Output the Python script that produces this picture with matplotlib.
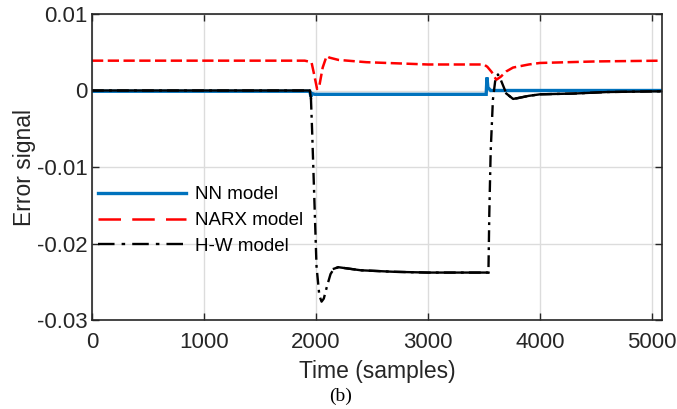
import numpy as np
import matplotlib
matplotlib.use("Agg")
import matplotlib.pyplot as plt
from matplotlib.lines import Line2D

# Error signals of the three identified models (sample index, error value)
nn_t = [0, 1945, 1955, 1965, 1990, 2100, 3520, 3527, 3535, 3560, 3580, 5090]
nn_v = [-0.0001, -0.0001, -0.0008, -0.0004, -0.0005, -0.0005, -0.0005,
        0.0017, 0.0004, 0.0000, 0.0000, 0.0000]

narx_t = [0, 1900, 1960, 1985, 2010, 2030, 2060, 2095, 2120, 2200, 2450, 3000,
          3500, 3530, 3570, 3610, 3650, 3700, 3760, 3900, 4000, 4500, 5090]
narx_v = [0.0039, 0.0039, 0.0037, 0.0020, 0.0002, 0.0006, 0.0030, 0.0045,
          0.0043, 0.0040, 0.0037, 0.0034, 0.0034, 0.0031, 0.0024, 0.0014,
          0.0018, 0.0025, 0.0030, 0.0034, 0.0036, 0.0038, 0.0039]

hw_t = [0, 1945, 1955, 1965, 1985, 2005, 2030, 2050, 2070, 2100, 2130, 2160,
        2200, 2400, 2700, 3000, 3300, 3540, 3548, 3560, 3580, 3600, 3625,
        3650, 3700, 3760, 3800, 3900, 4000, 4300, 4600, 5090]
hw_v = [0.0000, 0.0000, -0.0010, -0.0050, -0.0140, -0.0230, -0.0268, -0.0276,
        -0.0272, -0.0255, -0.0240, -0.0233, -0.0231, -0.0235, -0.0237, -0.0238,
        -0.0238, -0.0238, -0.0160, -0.0080, -0.0012, 0.0012, 0.0021, 0.0014,
        -0.0004, -0.0011, -0.0010, -0.0007, -0.0005, -0.0004, -0.0002, -0.0001]

series_labels = ["NN model", "NARX model", "H-W model"]
x_ticks = [0, 1000, 2000, 3000, 4000, 5000]
x_tick_labels = ["0", "1000", "2000", "3000", "4000", "5000"]
y_ticks = [0.01, 0.0, -0.01, -0.02, -0.03]
y_tick_labels = ["0.01", "0", "-0.01", "-0.02", "-0.03"]

plt.rcParams["font.family"] = ["Liberation Sans", "DejaVu Sans"]
plt.rcParams["axes.unicode_minus"] = False

fig = plt.figure(figsize=(6.77, 4.09), dpi=100)
ax = fig.add_axes([92 / 677, 1 - 320 / 409, 570 / 677, 306 / 409])

blue = "#0072BD"
red = "#FF0000"
ink = "#262626"

ax.plot(nn_t, nn_v, color=blue, lw=2.4, solid_joinstyle="miter")
ax.plot(narx_t, narx_v, color=red, lw=1.8, dashes=(4.5, 1.8))
ax.plot(hw_t, hw_v, color="black", lw=1.7, dashes=(5, 2.2, 1.2, 2.2))

# the slowly varying stretches of the H-W error render as a continuous trace
hw_t_arr = np.asarray(hw_t)
hw_v_arr = np.asarray(hw_v)
for lo, hi in [(0, 1955), (2160, 3540), (3700, 5090)]:
    m = (hw_t_arr >= lo) & (hw_t_arr <= hi)
    ax.plot(hw_t_arr[m], hw_v_arr[m], color="black", lw=1.7)

ax.set_xlim(0, 5090)
ax.set_ylim(-0.03, 0.01)
ax.set_xticks(x_ticks, x_tick_labels)
ax.set_yticks(y_ticks, y_tick_labels)
ax.grid(True, color="#dcdcdc", lw=1.0)
ax.set_axisbelow(True)

for s in ax.spines.values():
    s.set_color(ink)
    s.set_linewidth(1.2)
ax.tick_params(axis="both", direction="in", length=5, width=1.0,
               color=ink, labelsize=16, labelcolor=ink,
               top=True, right=True)
ax.tick_params(axis="x", pad=9)
ax.tick_params(axis="y", pad=3)

ax.set_xlabel("Time (samples)", fontsize=16.5, color=ink, labelpad=4.5)
ax.set_ylabel("Error signal", fontsize=16.5, color=ink, labelpad=1)

handles = [
    Line2D([], [], color=blue, lw=2.4),
    Line2D([], [], color=red, lw=1.8, dashes=(9, 4.5)),
    Line2D([], [], color="black", lw=1.7, dashes=(7, 3, 1.5, 3)),
]
ax.legend(handles, series_labels, loc="center left",
          bbox_to_anchor=(6 / 570, (320 - 220.5) / 306), frameon=False,
          fontsize=13.5, handlelength=4.7, handletextpad=0.45,
          labelspacing=0.46, borderpad=0, borderaxespad=0)

fig.text(341 / 677, 1 - 396 / 409, "(b)", ha="center", va="center",
         fontsize=14, family=["Liberation Serif", "DejaVu Serif"])

fig.savefig("out.png", dpi=100)
